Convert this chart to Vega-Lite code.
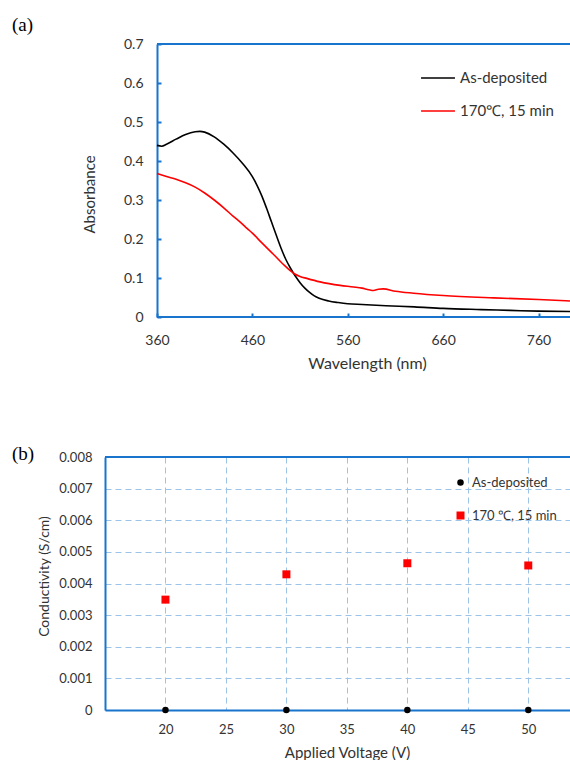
{
  "$schema": "https://vega.github.io/schema/vega-lite/v6.json",
  "padding": {"left": 12, "top": 16, "right": 0, "bottom": 0},
  "columns": 1,
  "align": "none",
  "spacing": 74,
  "config": {
    "view": {"stroke": null},
    "axis": {
      "labelFont": "Lato", "titleFont": "Lato", "titleFontWeight": "normal",
      "labelColor": "#333333", "titleColor": "#333333",
      "domainColor": "#1874CD", "domainWidth": 2,
      "tickColor": "#1874CD", "tickWidth": 2
    },
    "legend": {"labelFont": "Lato", "labelColor": "#333333", "padding": 0}
  },
  "resolve": {"scale": {"color": "independent", "shape": "independent", "size": "independent"}, "legend": {"color": "independent", "shape": "independent"}},
  "concat": [
    {
      "width": 465,
      "height": 273,
      "title": {"text": "(a)", "anchor": "start", "frame": "group", "dx": -93, "dy": 25, "font": "Liberation Serif", "fontSize": 19, "fontWeight": "normal", "color": "#000000", "offset": 12, "baseline": "alphabetic"},
      "layer": [
        {
          "data": {"values": [
            {"series": "As-deposited", "wavelength": 360, "absorbance": 0.440},
            {"series": "As-deposited", "wavelength": 365, "absorbance": 0.438},
            {"series": "As-deposited", "wavelength": 370, "absorbance": 0.443},
            {"series": "As-deposited", "wavelength": 380, "absorbance": 0.456},
            {"series": "As-deposited", "wavelength": 390, "absorbance": 0.468},
            {"series": "As-deposited", "wavelength": 400, "absorbance": 0.475},
            {"series": "As-deposited", "wavelength": 405, "absorbance": 0.476},
            {"series": "As-deposited", "wavelength": 410, "absorbance": 0.474},
            {"series": "As-deposited", "wavelength": 420, "absorbance": 0.462},
            {"series": "As-deposited", "wavelength": 430, "absorbance": 0.443},
            {"series": "As-deposited", "wavelength": 440, "absorbance": 0.420},
            {"series": "As-deposited", "wavelength": 450, "absorbance": 0.393},
            {"series": "As-deposited", "wavelength": 460, "absorbance": 0.360},
            {"series": "As-deposited", "wavelength": 465, "absorbance": 0.337},
            {"series": "As-deposited", "wavelength": 470, "absorbance": 0.310},
            {"series": "As-deposited", "wavelength": 475, "absorbance": 0.278},
            {"series": "As-deposited", "wavelength": 480, "absorbance": 0.244},
            {"series": "As-deposited", "wavelength": 485, "absorbance": 0.210},
            {"series": "As-deposited", "wavelength": 490, "absorbance": 0.177},
            {"series": "As-deposited", "wavelength": 495, "absorbance": 0.148},
            {"series": "As-deposited", "wavelength": 500, "absorbance": 0.125},
            {"series": "As-deposited", "wavelength": 505, "absorbance": 0.105},
            {"series": "As-deposited", "wavelength": 510, "absorbance": 0.088},
            {"series": "As-deposited", "wavelength": 515, "absorbance": 0.074},
            {"series": "As-deposited", "wavelength": 520, "absorbance": 0.063},
            {"series": "As-deposited", "wavelength": 525, "absorbance": 0.054},
            {"series": "As-deposited", "wavelength": 530, "absorbance": 0.048},
            {"series": "As-deposited", "wavelength": 540, "absorbance": 0.041},
            {"series": "As-deposited", "wavelength": 550, "absorbance": 0.037},
            {"series": "As-deposited", "wavelength": 560, "absorbance": 0.034},
            {"series": "As-deposited", "wavelength": 575, "absorbance": 0.032},
            {"series": "As-deposited", "wavelength": 600, "absorbance": 0.029},
            {"series": "As-deposited", "wavelength": 630, "absorbance": 0.026},
            {"series": "As-deposited", "wavelength": 660, "absorbance": 0.022},
            {"series": "As-deposited", "wavelength": 700, "absorbance": 0.019},
            {"series": "As-deposited", "wavelength": 730, "absorbance": 0.017},
            {"series": "As-deposited", "wavelength": 760, "absorbance": 0.015},
            {"series": "As-deposited", "wavelength": 793, "absorbance": 0.014},
            {"series": "170℃, 15 min", "wavelength": 360, "absorbance": 0.368},
            {"series": "170℃, 15 min", "wavelength": 370, "absorbance": 0.360},
            {"series": "170℃, 15 min", "wavelength": 380, "absorbance": 0.353},
            {"series": "170℃, 15 min", "wavelength": 390, "absorbance": 0.344},
            {"series": "170℃, 15 min", "wavelength": 400, "absorbance": 0.333},
            {"series": "170℃, 15 min", "wavelength": 410, "absorbance": 0.318},
            {"series": "170℃, 15 min", "wavelength": 420, "absorbance": 0.300},
            {"series": "170℃, 15 min", "wavelength": 430, "absorbance": 0.280},
            {"series": "170℃, 15 min", "wavelength": 440, "absorbance": 0.258},
            {"series": "170℃, 15 min", "wavelength": 447, "absorbance": 0.244},
            {"series": "170℃, 15 min", "wavelength": 455, "absorbance": 0.226},
            {"series": "170℃, 15 min", "wavelength": 460, "absorbance": 0.215},
            {"series": "170℃, 15 min", "wavelength": 470, "absorbance": 0.190},
            {"series": "170℃, 15 min", "wavelength": 482, "absorbance": 0.161},
            {"series": "170℃, 15 min", "wavelength": 492, "absorbance": 0.136},
            {"series": "170℃, 15 min", "wavelength": 504, "absorbance": 0.111},
            {"series": "170℃, 15 min", "wavelength": 510, "absorbance": 0.104},
            {"series": "170℃, 15 min", "wavelength": 517, "absorbance": 0.099},
            {"series": "170℃, 15 min", "wavelength": 531, "absorbance": 0.090},
            {"series": "170℃, 15 min", "wavelength": 552, "absorbance": 0.081},
            {"series": "170℃, 15 min", "wavelength": 566, "absorbance": 0.077},
            {"series": "170℃, 15 min", "wavelength": 575, "absorbance": 0.074},
            {"series": "170℃, 15 min", "wavelength": 582, "absorbance": 0.070},
            {"series": "170℃, 15 min", "wavelength": 587, "absorbance": 0.068},
            {"series": "170℃, 15 min", "wavelength": 592, "absorbance": 0.071},
            {"series": "170℃, 15 min", "wavelength": 597, "absorbance": 0.072},
            {"series": "170℃, 15 min", "wavelength": 610, "absorbance": 0.066},
            {"series": "170℃, 15 min", "wavelength": 629, "absorbance": 0.061},
            {"series": "170℃, 15 min", "wavelength": 660, "absorbance": 0.055},
            {"series": "170℃, 15 min", "wavelength": 713, "absorbance": 0.049},
            {"series": "170℃, 15 min", "wavelength": 760, "absorbance": 0.045},
            {"series": "170℃, 15 min", "wavelength": 793, "absorbance": 0.041}
          ]},
          "mark": {"type": "line", "strokeWidth": 1.6, "interpolate": "monotone", "clip": true},
          "encoding": {
            "x": {"field": "wavelength", "type": "quantitative",
              "scale": {"domain": [305.5, 793], "nice": false, "zero": false},
              "axis": {"title": "Wavelength (nm)", "values": [360, 460, 560, 660, 760], "tickCount": 10, "grid": false, "domain": false,
                "tickSize": -4, "labelPadding": 20, "labelFontSize": 14, "titleFontSize": 16, "titlePadding": 8, "titleX": 262, "labelFlush": false}},
            "y": {"field": "absorbance", "type": "quantitative",
              "scale": {"domain": [0, 0.7], "nice": false},
              "axis": {"title": "Absorbance", "values": [0, 0.1, 0.2, 0.3, 0.4, 0.5, 0.6, 0.7], "tickCount": 10, "grid": false, "offset": -52,
                "labelExpr": "datum.value == 0 ? '0' : format(datum.value, '.1f')",
                "tickSize": -4, "labelPadding": 18, "labelFontSize": 14, "titleFontSize": 15, "titlePadding": 26, "titleY": 150, "labelFlush": false}},
            "color": {"field": "series", "type": "nominal",
              "scale": {"domain": ["As-deposited", "170℃, 15 min"], "range": ["#000000", "#ff0000"]},
              "legend": {"title": null, "orient": "none", "legendX": 315, "legendY": 16, "symbolType": "stroke",
                "symbolSize": 1150, "symbolStrokeWidth": 1.6, "labelFontSize": 15, "rowPadding": 7, "labelOffset": 4}}
          }
        },
        {
          "data": {"values": [{}]},
          "mark": {"type": "rule", "color": "#1874CD", "strokeWidth": 2},
          "encoding": {"y": {"datum": 0.7}, "x": {"datum": 360}, "x2": {"datum": 793}}
        },
        {
          "data": {"values": [{}]},
          "mark": {"type": "rule", "color": "#1874CD", "strokeWidth": 2},
          "encoding": {"y": {"datum": 0}, "x": {"datum": 360}, "x2": {"datum": 793}}
        }
      ]
    },
    {
      "width": 465,
      "height": 253,
      "title": {"text": "(b)", "anchor": "start", "frame": "group", "dx": -93, "dy": 40, "font": "Liberation Serif", "fontSize": 19, "fontWeight": "normal", "color": "#000000", "offset": 12, "baseline": "alphabetic"},
      "layer": [
        {
          "data": {"values": [
            {"series": "As-deposited", "voltage": 20, "conductivity": 0},
            {"series": "As-deposited", "voltage": 30, "conductivity": 0},
            {"series": "As-deposited", "voltage": 40, "conductivity": 0},
            {"series": "As-deposited", "voltage": 50, "conductivity": 0},
            {"series": "170 ℃, 15 min", "voltage": 20, "conductivity": 0.00349},
            {"series": "170 ℃, 15 min", "voltage": 30, "conductivity": 0.00429},
            {"series": "170 ℃, 15 min", "voltage": 40, "conductivity": 0.00464},
            {"series": "170 ℃, 15 min", "voltage": 50, "conductivity": 0.00457}
          ]},
          "mark": {"type": "point", "filled": true, "opacity": 1},
          "encoding": {
            "x": {"field": "voltage", "type": "quantitative",
              "scale": {"domain": [15, 53.45], "nice": false, "zero": false},
              "axis": {"title": "Applied Voltage (V)", "values": [20, 25, 30, 35, 40, 45, 50], "tickCount": 10,
                "ticks": false, "grid": true, "gridColor": "#9DC3E6", "gridDash": [6, 4], "gridWidth": 1,
                "labelPadding": 13, "labelFontSize": 13, "titleFontSize": 15, "titlePadding": 9, "titleX": 242, "labelFlush": false}},
            "y": {"field": "conductivity", "type": "quantitative",
              "scale": {"domain": [0, 0.008], "nice": false},
              "axis": {"title": "Conductivity (S/cm)", "values": [0, 0.001, 0.002, 0.003, 0.004, 0.005, 0.006, 0.007, 0.008], "tickCount": 12,
                "labelExpr": "datum.value == 0 ? '0' : format(datum.value, '.3f')",
                "ticks": false, "grid": true, "gridColor": "#9DC3E6", "gridDash": [6, 4], "gridWidth": 1,
                "labelPadding": 13, "labelFontSize": 13, "titleFontSize": 14, "titlePadding": 7, "titleY": 119, "labelFlush": false}},
            "color": {"field": "series", "type": "nominal",
              "scale": {"domain": ["As-deposited", "170 ℃, 15 min"], "range": ["#000000", "#ff0000"]},
              "legend": {"title": null, "orient": "none", "legendX": 349, "legendY": 19, "symbolSize": 50,
                "labelFontSize": 13, "rowPadding": 19, "labelOffset": 5}},
            "shape": {"field": "series", "type": "nominal",
              "scale": {"domain": ["As-deposited", "170 ℃, 15 min"], "range": ["circle", "square"]}},
            "size": {"field": "series", "type": "nominal",
              "scale": {"domain": ["As-deposited", "170 ℃, 15 min"], "range": [42, 64]}, "legend": null}
          }
        },
        {
          "data": {"values": [{}]},
          "mark": {"type": "rule", "color": "#1874CD", "strokeWidth": 2},
          "encoding": {"y": {"datum": 0.008}}
        }
      ]
    }
  ]
}
